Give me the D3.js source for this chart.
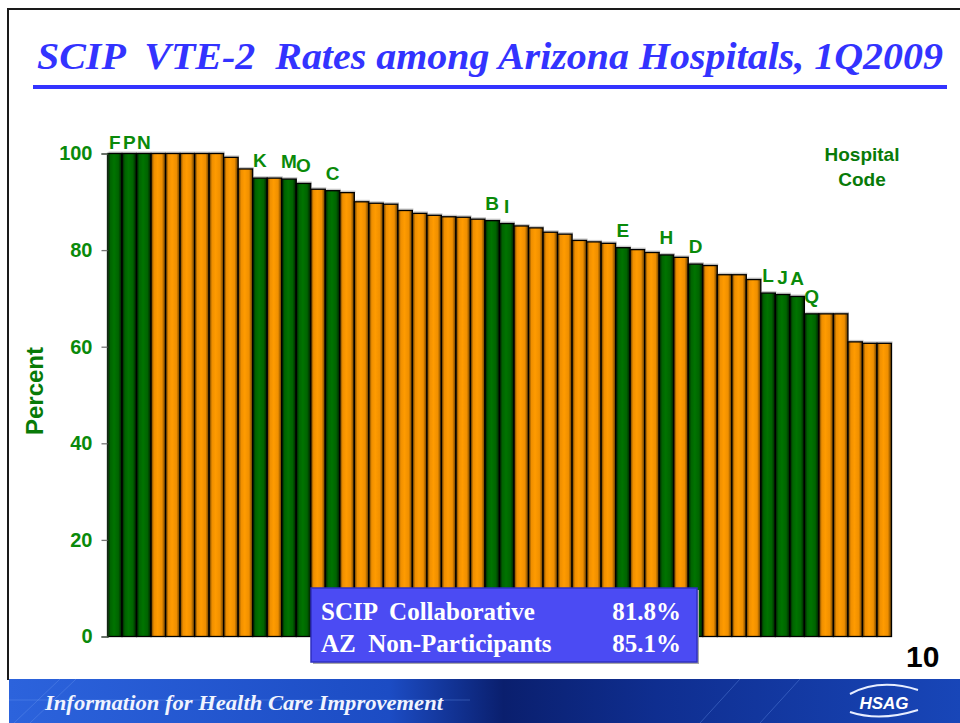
<!DOCTYPE html>
<html>
<head>
<meta charset="utf-8">
<script src="https://cdn.jsdelivr.net/npm/d3@7"></script>
<style>
  body { margin: 0; background: #fff; }
  svg { display: block; }
  text { white-space: pre; }
</style>
</head>
<body>
<script>
// bar values (percent), sorted high to low as on the slide
var rates = [100, 100, 100, 100, 100, 100, 100, 100, 99.2, 96.8,
             94.9, 94.9, 94.7, 93.8, 92.6, 92.3, 91.9, 90.0, 89.7, 89.5,
             88.2, 87.6, 87.2, 86.9, 86.8, 86.4, 86.1, 85.5, 85.0, 84.6,
             83.7, 83.3, 82.0, 81.7, 81.4, 80.5, 80.1, 79.5, 79.0, 78.5,
             77.1, 76.8, 74.9, 74.9, 73.9, 71.1, 70.8, 70.4, 66.8, 66.8,
             66.8, 61.0, 60.7, 60.7];
// hospital code for collaborative members, "" for non-participants
var codes = ["F", "P", "N", "", "", "", "", "", "", "",
             "K", "", "M", "O", "", "C", "", "", "", "",
             "", "", "", "", "", "", "B", "I", "", "",
             "", "", "", "", "", "E", "", "", "H", "",
             "D", "", "", "", "", "L", "J", "A", "Q", "",
             "", "", "", ""];
var yTicks = [0, 20, 40, 60, 80, 100];
var legendRows = ["SCIP  Collaborative", "AZ  Non-Participants"];
var legendValues = ["81.8%", "85.1%"];

var W = 960, H = 723;
var svg = d3.select("body").append("svg").attr("width", W).attr("height", H);
var defs = svg.append("defs");

function barGradient(id, dark, mid, light){
    var g = defs.append("linearGradient").attr("id", id)
        .attr("x1", "0%").attr("x2", "100%").attr("y1", "0%").attr("y2", "0%");
    g.append("stop").attr("offset", "0%").attr("stop-color", dark);
    g.append("stop").attr("offset", "20%").attr("stop-color", mid);
    g.append("stop").attr("offset", "45%").attr("stop-color", light);
    g.append("stop").attr("offset", "75%").attr("stop-color", mid);
    g.append("stop").attr("offset", "100%").attr("stop-color", dark);
}
barGradient("gGreen", "#001a00", "#006400", "#007400");
barGradient("gOrange", "#5a3600", "#ef8f00", "#ff9b00");

var banner = defs.append("linearGradient").attr("id", "banner")
    .attr("x1", "0%").attr("x2", "100%").attr("y1", "0%").attr("y2", "0%");
banner.append("stop").attr("offset", "0%").attr("stop-color", "#2c63dc");
banner.append("stop").attr("offset", "40%").attr("stop-color", "#1c4cc4");
banner.append("stop").attr("offset", "52%").attr("stop-color", "#0a1f6e");
banner.append("stop").attr("offset", "68%").attr("stop-color", "#0f2e90");
banner.append("stop").attr("offset", "100%").attr("stop-color", "#1846b8");

// slide frame
svg.append("path").attr("d", "M8,680 V9 H960")
    .attr("fill", "none").attr("stroke", "#1a1a1a").attr("stroke-width", 2);

// title
svg.append("text")
    .attr("x", 37).attr("y", 69)
    .attr("textLength", 906).attr("lengthAdjust", "spacingAndGlyphs")
    .attr("font-family", "'Liberation Serif', 'Times New Roman', serif")
    .attr("font-style", "italic").attr("font-weight", "bold")
    .attr("font-size", 38).attr("fill", "#3333ff")
    .text("SCIP  VTE-2  Rates among Arizona Hospitals, 1Q2009");
svg.append("rect").attr("x", 33).attr("y", 85).attr("width", 914).attr("height", 4)
    .attr("fill", "#3333ff");

var x = d3.scaleBand().domain(d3.range(rates.length)).range([107.5, 891.5]).padding(0);
var y = d3.scaleLinear().domain([0, 100]).range([636.5, 153.5]);

var bars = svg.append("g");
// faint shadow over each bar top
bars.selectAll("rect.shadow").data(rates).join("rect")
    .attr("class", "shadow")
    .attr("x", function(d, i){ return x(i) + 1; })
    .attr("y", function(d){ return y(d) - 2; })
    .attr("width", x.bandwidth())
    .attr("height", 2)
    .attr("fill", "#c8c8c8");
bars.selectAll("rect.bar").data(rates).join("rect")
    .attr("class", "bar")
    .attr("x", function(d, i){ return x(i); })
    .attr("y", function(d){ return y(d); })
    .attr("width", x.bandwidth())
    .attr("height", function(d){ return y(0) - y(d); })
    .attr("fill", function(d, i){ return codes[i] ? "url(#gGreen)" : "url(#gOrange)"; })
    .attr("stroke", "#000").attr("stroke-width", 1.3);

// hospital code letters, only over collaborative bars
var coded = d3.range(rates.length).filter(function(i){ return codes[i] !== ""; });
svg.append("g").selectAll("text").data(coded).join("text")
    .attr("x", function(i){ return x(i) + x.bandwidth() / 2; })
    .attr("y", function(i){ return Math.max(y(rates[i]) - 11, y(100) - 5); })
    .attr("text-anchor", "middle")
    .attr("font-family", "Arial, 'Liberation Sans', sans-serif")
    .attr("font-weight", "bold").attr("font-size", 19).attr("fill", "#0a8a0a")
    .text(function(i){ return codes[i]; });

// y axis
var yAxis = svg.append("g")
    .attr("transform", "translate(107.5,0)")
    .call(d3.axisLeft(y).tickValues(yTicks).tickSize(6).tickPadding(9));
yAxis.select(".domain").attr("stroke", "#1a3a1a").attr("stroke-width", 1.3);
yAxis.selectAll(".tick line").attr("stroke", "#777").attr("stroke-width", 1.3);
yAxis.selectAll(".tick text")
    .attr("font-family", "Arial, 'Liberation Sans', sans-serif")
    .attr("font-weight", "bold").attr("font-size", 20).attr("fill", "#0a8a0a");

svg.append("text")
    .attr("transform", "translate(43,391) rotate(-90)")
    .attr("text-anchor", "middle")
    .attr("font-family", "Arial, 'Liberation Sans', sans-serif")
    .attr("font-weight", "bold").attr("font-size", 24).attr("fill", "#087a08")
    .text("Percent");

svg.append("g").selectAll("text").data(["Hospital", "Code"]).join("text")
    .attr("x", 862).attr("y", function(d, i){ return 161 + i * 25; })
    .attr("text-anchor", "middle")
    .attr("font-family", "Arial, 'Liberation Sans', sans-serif")
    .attr("font-weight", "bold").attr("font-size", 19).attr("fill", "#087a08")
    .text(function(d){ return d; });

// averages box
svg.append("rect").attr("x", 313).attr("y", 590).attr("width", 386).attr("height", 74)
    .attr("fill", "#a8a8a8");
svg.append("rect").attr("x", 311).attr("y", 588).attr("width", 386).attr("height", 74)
    .attr("fill", "#4b4bf3").attr("stroke", "#2f2fc0").attr("stroke-width", 1.5);
var legend = svg.append("g")
    .attr("font-family", "'Liberation Serif', 'Times New Roman', serif")
    .attr("font-weight", "bold").attr("font-size", 25).attr("fill", "#fff");
legend.selectAll("text.name").data(legendRows).join("text")
    .attr("class", "name")
    .attr("x", 321).attr("y", function(d, i){ return 620 + i * 32; })
    .text(function(d){ return d; });
legend.selectAll("text.val").data(legendValues).join("text")
    .attr("class", "val")
    .attr("x", 681).attr("y", function(d, i){ return 620 + i * 32; })
    .attr("text-anchor", "end")
    .text(function(d){ return d; });

// slide number
svg.append("text").attr("x", 906).attr("y", 667)
    .attr("font-family", "Arial, 'Liberation Sans', sans-serif")
    .attr("font-weight", "bold").attr("font-size", 30).attr("fill", "#000")
    .text("10");

// footer banner
svg.append("rect").attr("x", 9).attr("y", 679).attr("width", 951).attr("height", 44)
    .attr("fill", "url(#banner)");
var lines = svg.append("g").attr("stroke", "#6f9cf0").attr("stroke-opacity", 0.35).attr("fill", "none");
lines.append("path").attr("d", "M14,723 L60,679 M30,723 L76,679 M9,700 H470");
lines.append("path").attr("d", "M700,723 L740,679 M760,723 L800,679");
svg.append("text").attr("x", 45).attr("y", 710)
    .attr("font-family", "'Liberation Serif', 'Times New Roman', serif")
    .attr("font-style", "italic").attr("font-weight", "bold")
    .attr("font-size", 21).attr("fill", "#f0f4ff")
    .attr("textLength", 398).attr("lengthAdjust", "spacingAndGlyphs")
    .text("Information for Health Care Improvement");
var logo = svg.append("g").attr("fill", "none").attr("stroke", "#e8eeff").attr("stroke-width", 2);
logo.append("path").attr("d", "M850,694 Q880,678 918,690");
logo.append("path").attr("d", "M850,712 Q880,722 918,710");
svg.append("text").attr("x", 884).attr("y", 709)
    .attr("text-anchor", "middle")
    .attr("font-family", "Arial, 'Liberation Sans', sans-serif")
    .attr("font-style", "italic").attr("font-weight", "bold")
    .attr("font-size", 17).attr("fill", "#ffffff")
    .text("HSAG");
</script>
</body>
</html>
